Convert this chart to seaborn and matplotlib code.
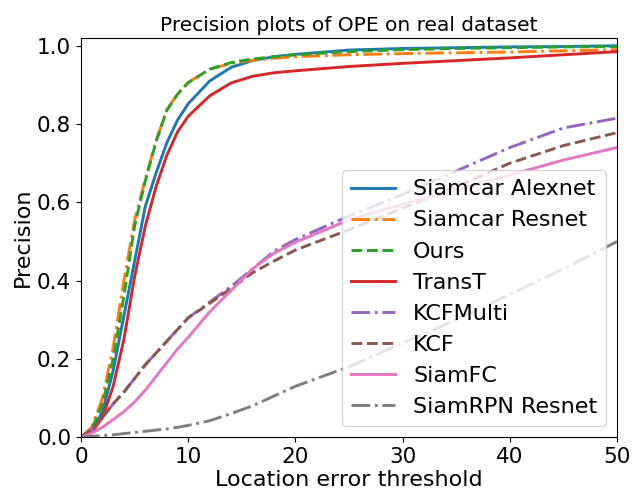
import numpy as np
import pandas as pd
import matplotlib
matplotlib.use('Agg')
import matplotlib.pyplot as plt
import seaborn as sns

# location error thresholds
thresholds = [0, 1, 2, 3, 4, 5, 6, 7, 8, 9, 10, 12, 14, 16, 18, 20, 25, 30, 35, 40, 45, 50]

siamcar_alexnet = [0, 0.015, 0.065, 0.17, 0.31, 0.45, 0.59, 0.675, 0.752, 0.81, 0.852, 0.91, 0.945,
                   0.962, 0.972, 0.978, 0.989, 0.993, 0.995, 0.997, 0.998, 1.0]
siamcar_resnet = [0, 0.025, 0.1, 0.23, 0.4, 0.555, 0.66, 0.758, 0.836, 0.877, 0.906, 0.94, 0.955,
                  0.963, 0.968, 0.972, 0.977, 0.98, 0.982, 0.984, 0.987, 0.99]
ours = [0, 0.02, 0.085, 0.2, 0.36, 0.54, 0.655, 0.755, 0.835, 0.876, 0.906, 0.94, 0.957,
        0.966, 0.972, 0.977, 0.985, 0.99, 0.993, 0.995, 0.997, 0.998]
transt = [0, 0.012, 0.05, 0.13, 0.25, 0.41, 0.54, 0.64, 0.72, 0.78, 0.82, 0.872, 0.905,
          0.922, 0.931, 0.936, 0.947, 0.955, 0.962, 0.969, 0.977, 0.985]
kcfmulti = [0, 0.02, 0.05, 0.085, 0.115, 0.15, 0.185, 0.215, 0.245, 0.275, 0.305, 0.345, 0.385,
            0.43, 0.475, 0.505, 0.565, 0.62, 0.68, 0.74, 0.79, 0.815]
kcf = [0, 0.02, 0.05, 0.085, 0.115, 0.15, 0.185, 0.215, 0.245, 0.275, 0.305, 0.342, 0.38,
       0.42, 0.45, 0.478, 0.53, 0.585, 0.64, 0.70, 0.745, 0.778]
siamfc = [0, 0.01, 0.025, 0.045, 0.065, 0.09, 0.12, 0.155, 0.19, 0.225, 0.255, 0.32, 0.375,
          0.43, 0.47, 0.498, 0.555, 0.595, 0.632, 0.67, 0.708, 0.74]
siamrpn_resnet = [0, 0.002, 0.004, 0.006, 0.009, 0.012, 0.015, 0.018, 0.021, 0.025, 0.03, 0.042, 0.06,
                  0.08, 0.105, 0.13, 0.18, 0.24, 0.30, 0.365, 0.43, 0.50]

names = ['Siamcar Alexnet', 'Siamcar Resnet', 'Ours', 'TransT', 'KCFMulti', 'KCF', 'SiamFC', 'SiamRPN Resnet']
series = [siamcar_alexnet, siamcar_resnet, ours, transt, kcfmulti, kcf, siamfc, siamrpn_resnet]
styles = ['-', '-.', '--', '-', '-.', '--', '-', '-.']
colors = sns.color_palette('tab10', 8)

fig = plt.figure(figsize=(6.33, 4.99), dpi=100)
ax = fig.add_axes([0.128, 0.124, 0.847, 0.800])

for name, vals, ls, c in zip(names, series, styles, colors):
    df = pd.DataFrame({'x': thresholds, 'y': vals})
    sns.lineplot(data=df, x='x', y='y', ax=ax, color=c, linestyle=ls, linewidth=2.1, label=name)

ax.set_xlim(0, 50)
ax.set_ylim(0, 1.02)
ax.set_xticks([0, 10, 20, 30, 40, 50])
ax.set_yticks([0.0, 0.2, 0.4, 0.6, 0.8, 1.0])
ax.tick_params(labelsize=15.5)
ax.set_xlabel('Location error threshold', fontsize=16, labelpad=2)
ax.set_ylabel('Precision', fontsize=16, labelpad=3)
ax.set_title('Precision plots of OPE on real dataset', fontsize=14.5, pad=5)
ax.legend(loc='lower right', fontsize=16)

fig.savefig('out.png', dpi=100)
